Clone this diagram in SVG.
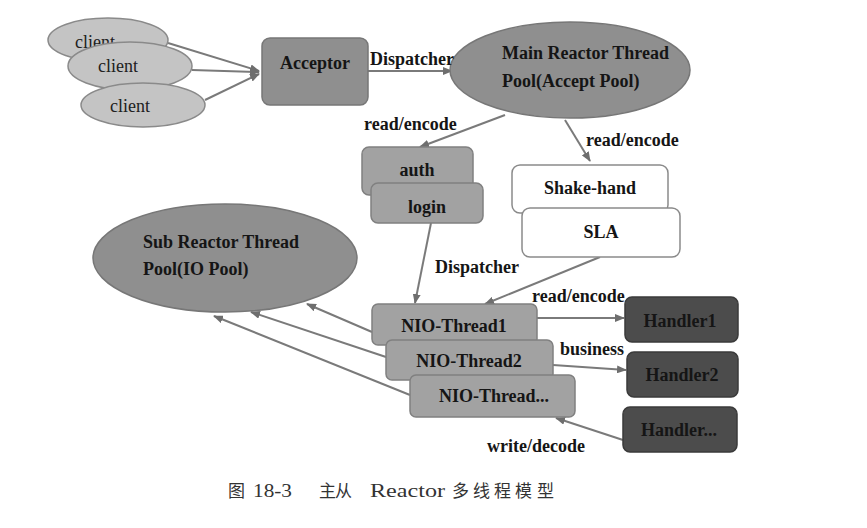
<svg xmlns="http://www.w3.org/2000/svg" width="867" height="528" viewBox="0 0 867 528">
<defs>
<marker id="ah" markerWidth="10" markerHeight="8" refX="9" refY="4" orient="auto" markerUnits="userSpaceOnUse">
<path d="M0,0 L10,4 L0,8 z" fill="#6e6e6e"/>
</marker>
</defs>
<style>
text{font-family:'Liberation Serif','DejaVu Serif','Times New Roman',serif}
.t{font-weight:bold;font-size:18px;fill:#151515}
.c{font-size:18px;fill:#202020}
.lbl{font-weight:bold;font-size:18px;fill:#151515}
.cap{font-family:'Liberation Serif','Noto Sans CJK SC',serif;font-size:17px;fill:#333}
.lat{font-size:19px}
.edge{stroke:#7a7a7a;stroke-width:2;fill:none;marker-end:url(#ah)}
.cl{fill:#c4c4c4;stroke:#8a8a8a;stroke-width:1.5}
.mid{fill:#8f8f8f;stroke:#777;stroke-width:1.5}
.lt{fill:#a2a2a2;stroke:#808080;stroke-width:1.5}
.wh{fill:#ffffff;stroke:#8a8a8a;stroke-width:1.5}
.dk{fill:#4c4c4c;stroke:#3a3a3a;stroke-width:1.5}
</style>
<rect width="867" height="528" fill="#ffffff"/>
<g id="connectors">
<line class="edge" x1="168" y1="43" x2="259" y2="71"/>
<line class="edge" x1="192" y1="70" x2="259" y2="72"/>
<line class="edge" x1="205" y1="100" x2="259" y2="74"/>
<line class="edge" x1="368" y1="71" x2="452" y2="71"/>
<line class="edge" x1="505" y1="115" x2="420" y2="147"/>
<line class="edge" x1="565" y1="120" x2="590" y2="161"/>
<line class="edge" x1="431" y1="223" x2="415" y2="303"/>
<line class="edge" x1="600" y1="257" x2="485" y2="304"/>
<line class="edge" x1="537" y1="318" x2="624" y2="318"/>
<line class="edge" x1="553" y1="365" x2="626" y2="370"/>
<line class="edge" x1="623" y1="440" x2="556" y2="418"/>
<line class="edge" x1="372" y1="332" x2="307" y2="304"/>
<line class="edge" x1="386" y1="357" x2="251" y2="312"/>
<line class="edge" x1="410" y1="395" x2="214" y2="316"/>
</g>
<g id="client1"><ellipse class="cl" cx="108" cy="40" rx="60" ry="22"/><text class="c" x="75" y="48">client</text></g>
<g id="client2"><ellipse class="cl" cx="130" cy="66" rx="62" ry="24"/><text class="c" x="118" y="72" text-anchor="middle">client</text></g>
<g id="client3"><ellipse class="cl" cx="143" cy="105" rx="62" ry="22"/><text class="c" x="130" y="112" text-anchor="middle">client</text></g>
<g id="acceptor"><rect class="mid" x="262" y="38" width="106" height="67" rx="8"/><text class="t" x="315" y="69" text-anchor="middle">Acceptor</text></g>
<g id="mainReactor"><ellipse class="mid" cx="570" cy="70" rx="120" ry="48"/><text class="t" x="502" y="59">Main Reactor Thread</text><text class="t" x="502" y="87">Pool(Accept Pool)</text></g>
<g id="auth"><rect class="lt" x="362" y="147" width="111" height="48" rx="7"/><text class="t" x="417" y="176" text-anchor="middle">auth</text></g>
<g id="login"><rect class="lt" x="371" y="183" width="112" height="40" rx="7"/><text class="t" x="427" y="213" text-anchor="middle">login</text></g>
<g id="shakehand"><rect class="wh" x="512" y="165" width="156" height="48" rx="8"/><text class="t" x="590" y="194" text-anchor="middle">Shake-hand</text></g>
<g id="sla"><rect class="wh" x="522" y="208" width="158" height="49" rx="8"/><text class="t" x="601" y="238" text-anchor="middle">SLA</text></g>
<g id="subReactor"><ellipse class="mid" cx="225" cy="258" rx="132" ry="54"/><text class="t" x="143" y="248">Sub Reactor Thread</text><text class="t" x="143" y="275">Pool(IO Pool)</text></g>
<g id="nio1"><rect class="lt" x="372" y="304" width="165" height="41" rx="6"/><text class="t" x="454" y="332" text-anchor="middle">NIO-Thread1</text></g>
<g id="nio2"><rect class="lt" x="386" y="340" width="167" height="40" rx="6"/><text class="t" x="469" y="367" text-anchor="middle">NIO-Thread2</text></g>
<g id="nio3"><rect class="lt" x="410" y="375" width="165" height="42" rx="6"/><text class="t" x="494" y="402" text-anchor="middle">NIO-Thread...</text></g>
<g id="handler1"><rect class="dk" x="625" y="297" width="113" height="45" rx="7"/><text class="t" x="680" y="327" text-anchor="middle">Handler1</text></g>
<g id="handler2"><rect class="dk" x="627" y="352" width="111" height="45" rx="7"/><text class="t" x="682" y="381" text-anchor="middle">Handler2</text></g>
<g id="handler3"><rect class="dk" x="623" y="407" width="114" height="45" rx="7"/><text class="t" x="679" y="436" text-anchor="middle">Handler...</text></g>
<g id="labels">
<text class="lbl" x="370" y="65">Dispatcher</text>
<text class="lbl" x="364" y="130">read/encode</text>
<text class="lbl" x="586" y="146">read/encode</text>
<text class="lbl" x="435" y="273">Dispatcher</text>
<text class="lbl" x="532" y="302">read/encode</text>
<text class="lbl" x="560" y="355">business</text>
<text class="lbl" x="487" y="452">write/decode</text>
</g>
<text class="cap" y="497"><tspan x="228">图</tspan><tspan class="lat" x="253" textLength="39" lengthAdjust="spacingAndGlyphs">18-3</tspan><tspan x="319 335">主从</tspan><tspan class="lat" x="370" textLength="75" lengthAdjust="spacingAndGlyphs">Reactor</tspan><tspan x="452 473 494 515 537">多线程模型</tspan></text>
</svg>
